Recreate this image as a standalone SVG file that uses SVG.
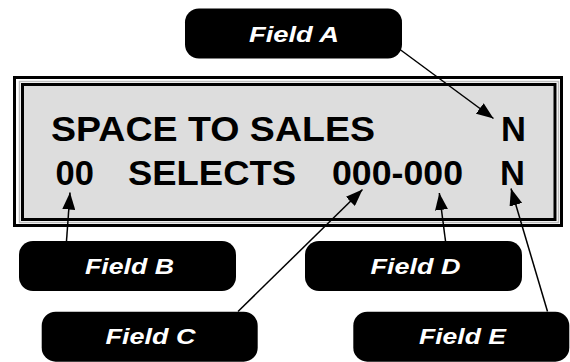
<svg xmlns="http://www.w3.org/2000/svg" width="570" height="362" viewBox="0 0 570 362">
<style>
.box{fill:#000;}
.lbl{font-family:"Liberation Sans",Arial,sans-serif;font-weight:bold;font-style:italic;font-size:22.5px;fill:#fff;}
.lcd{font-family:"Liberation Sans",Arial,sans-serif;font-weight:bold;font-size:34.5px;fill:#000;}
.conn{stroke:#000;stroke-width:1.5;fill:none;marker-end:url(#arr);}
</style>
<defs>
<marker id="arr" markerUnits="userSpaceOnUse" viewBox="0 0 17 13" refX="17" refY="6.5" markerWidth="17" markerHeight="13" orient="auto">
<path d="M0,0 L17,6.5 L0,13 z" fill="#000"/>
</marker>
</defs>
<rect width="570" height="362" fill="#fff"/>
<g id="display">
<rect x="14.5" y="77.5" width="547" height="148" fill="#fff" stroke="#000" stroke-width="3"/>
<rect x="19.5" y="81.5" width="539" height="141" fill="none" stroke="#bdbdbd" stroke-width="1.5"/>
<rect x="22.5" y="84.5" width="532.5" height="135" fill="#dddddd" stroke="#000" stroke-width="3"/>
<text class="lcd" x="51" y="141" textLength="324" lengthAdjust="spacingAndGlyphs">SPACE TO SALES</text>
<text class="lcd" x="501" y="141">N</text>
<text class="lcd" x="55.5" y="185">00</text>
<text class="lcd" x="128" y="185" textLength="168" lengthAdjust="spacingAndGlyphs">SELECTS</text>
<text class="lcd" x="332" y="185" textLength="131" lengthAdjust="spacingAndGlyphs">000-000</text>
<text class="lcd" x="500" y="185">N</text>
</g>
<g id="fieldA">
<rect class="box" x="185" y="8.5" width="217" height="50" rx="14"/>
<text class="lbl" x="249" y="41.7" textLength="90" lengthAdjust="spacingAndGlyphs">Field A</text>
</g>
<g id="fieldB">
<rect class="box" x="19" y="241" width="217" height="50" rx="14"/>
<text class="lbl" x="85" y="273.5" textLength="89" lengthAdjust="spacingAndGlyphs">Field B</text>
</g>
<g id="fieldC">
<rect class="box" x="41.7" y="311.7" width="216" height="50" rx="14"/>
<text class="lbl" x="105.5" y="343.5" textLength="90" lengthAdjust="spacingAndGlyphs">Field C</text>
</g>
<g id="fieldD">
<rect class="box" x="305" y="241" width="217" height="50" rx="14"/>
<text class="lbl" x="370.5" y="273.5" textLength="90" lengthAdjust="spacingAndGlyphs">Field D</text>
</g>
<g id="fieldE">
<rect class="box" x="353.3" y="311.7" width="216" height="50" rx="14"/>
<text class="lbl" x="419" y="343.5" textLength="87" lengthAdjust="spacingAndGlyphs">Field E</text>
</g>
<g id="connectors">
<line class="conn" x1="400" y1="49.5" x2="493.5" y2="118.5"/>
<line class="conn" x1="66.5" y1="241" x2="70" y2="192.5"/>
<line class="conn" x1="238" y1="311.5" x2="362.5" y2="189.5"/>
<line class="conn" x1="445.5" y1="241" x2="439.3" y2="193"/>
<line class="conn" x1="547.5" y1="311.5" x2="511" y2="188.5"/>
</g>
</svg>
